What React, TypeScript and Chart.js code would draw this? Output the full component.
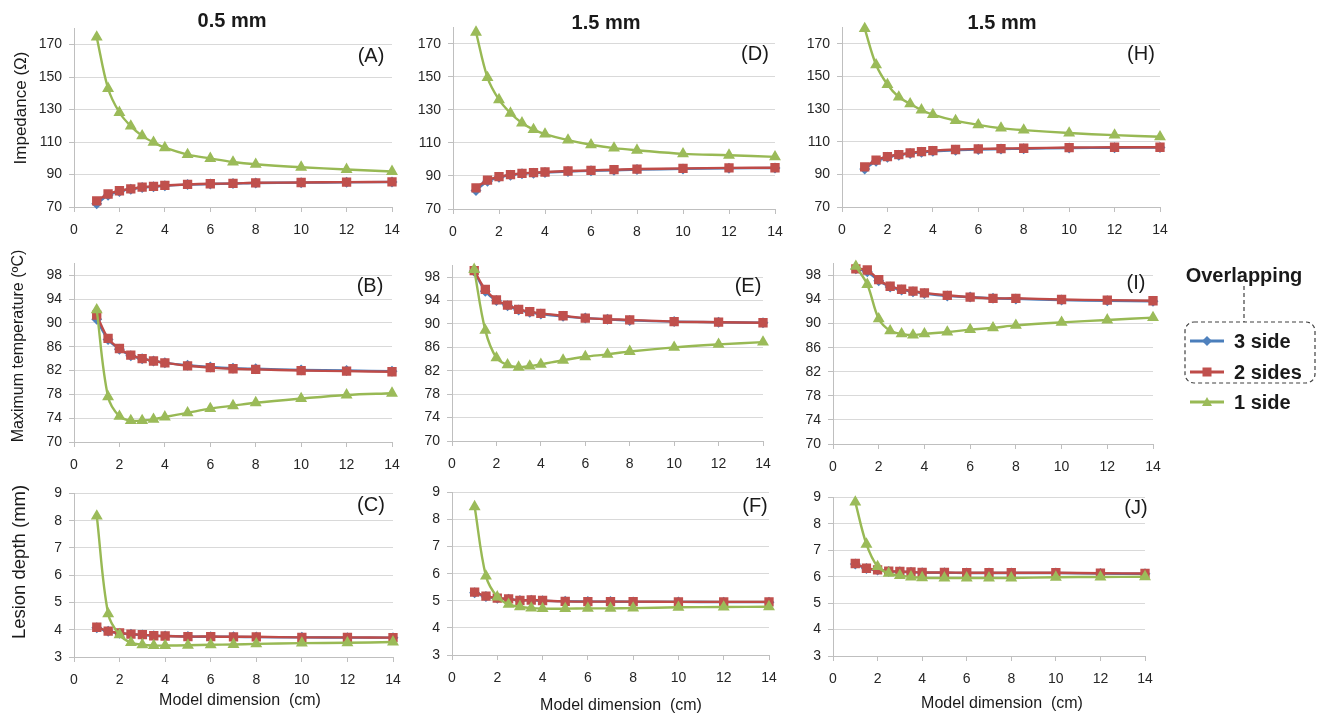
import React, { useEffect, useRef } from "react";
import { Chart, registerables } from "chart.js";

Chart.register(...registerables);

// ---------- data ----------
const xValues = [1, 1.5, 2, 2.5, 3, 3.5, 4, 5, 6, 7, 8, 10, 12, 14];
const xTicks = [0, 2, 4, 6, 8, 10, 12, 14];
const impedanceTicks = [70, 90, 110, 130, 150, 170];
const temperatureTicks = [70, 74, 78, 82, 86, 90, 94, 98];
const depthTicks = [3, 4, 5, 6, 7, 8, 9];
const seriesNames = ["3 side", "2 sides", "1 side"];
const columnTitles = ["0.5 mm", "1.5 mm", "1.5 mm"];
const panelLetters = ["(A)", "(B)", "(C)", "(D)", "(E)", "(F)", "(H)", "(I)", "(J)"];
const yTitles = ["Impedance (\u03A9)", "Maximum temperature (\u00BAC)", "Lesion depth (mm)"];
const xTitle = "Model dimension\u00A0\u00A0(cm)";

// (A) impedance, 0.5 mm
const impA_3side = [72.0, 77.2, 79.6, 81.0, 82.0, 82.5, 83.1, 83.8, 84.2, 84.4, 84.8, 85.0, 85.2, 85.4];
const impA_2sides = [73.8, 78.0, 80.0, 81.2, 82.2, 82.7, 83.3, 83.9, 84.3, 84.5, 84.9, 85.1, 85.3, 85.5];
const impA_1side = [174.6, 143.0, 128.2, 119.8, 113.8, 109.8, 106.5, 102.3, 99.9, 97.7, 96.3, 94.5, 93.1, 91.9];
// (B) max temperature, 0.5 mm
const tmpB_3side = [90.6, 87.2, 85.6, 84.5, 84.0, 83.6, 83.3, 82.9, 82.6, 82.4, 82.3, 82.1, 82.0, 81.9];
const tmpB_2sides = [91.3, 87.4, 85.7, 84.6, 84.0, 83.6, 83.3, 82.8, 82.5, 82.3, 82.2, 82.0, 81.9, 81.8];
const tmpB_1side = [92.2, 77.6, 74.3, 73.6, 73.6, 73.8, 74.2, 74.9, 75.6, 76.1, 76.6, 77.3, 77.9, 78.2];
// (C) lesion depth, 0.5 mm
const depC_3side = [4.07, 3.94, 3.87, 3.83, 3.81, 3.78, 3.77, 3.75, 3.74, 3.74, 3.73, 3.72, 3.71, 3.71];
const depC_2sides = [4.09, 3.95, 3.88, 3.84, 3.82, 3.78, 3.77, 3.75, 3.75, 3.74, 3.74, 3.72, 3.72, 3.71];
const depC_1side = [8.17, 4.58, 3.81, 3.53, 3.45, 3.42, 3.42, 3.43, 3.45, 3.46, 3.48, 3.51, 3.52, 3.55];
// (D) impedance, 1.5 mm
const impD_3side = [81.2, 86.8, 89.2, 90.5, 91.3, 91.7, 92.1, 92.7, 93.1, 93.5, 93.9, 94.3, 94.7, 94.8];
const impD_2sides = [82.8, 87.5, 89.6, 90.8, 91.6, 92.0, 92.4, 93.0, 93.4, 93.8, 94.2, 94.6, 94.9, 95.0];
const impD_1side = [177.1, 149.6, 136.2, 128.0, 122.1, 118.1, 115.4, 111.7, 108.9, 106.9, 105.6, 103.4, 102.6, 101.6];
// (E) max temperature, 1.5 mm
const tmpE_3side = [99.0, 95.6, 94.0, 93.1, 92.4, 92.0, 91.7, 91.3, 91.0, 90.8, 90.6, 90.4, 90.3, 90.2];
const tmpE_2sides = [99.1, 95.9, 94.1, 93.2, 92.5, 92.1, 91.8, 91.4, 91.0, 90.8, 90.7, 90.4, 90.3, 90.2];
const tmpE_1side = [99.3, 88.9, 84.2, 83.0, 82.6, 82.8, 83.1, 83.8, 84.4, 84.8, 85.3, 86.0, 86.5, 86.9];
// (F) lesion depth, 1.5 mm
const depF_3side = [5.30, 5.16, 5.09, 5.06, 5.01, 5.02, 5.00, 4.98, 4.97, 4.97, 4.96, 4.96, 4.95, 4.95];
const depF_2sides = [5.32, 5.17, 5.10, 5.07, 5.01, 5.03, 5.01, 4.98, 4.97, 4.97, 4.97, 4.96, 4.96, 4.96];
const depF_1side = [8.47, 5.91, 5.14, 4.87, 4.78, 4.73, 4.71, 4.71, 4.72, 4.72, 4.73, 4.76, 4.77, 4.78];
// (H) impedance, 1.5 mm (third column)
const impH_3side = [93.2, 98.0, 100.4, 101.7, 102.7, 103.5, 104.1, 104.8, 105.2, 105.5, 105.7, 106.1, 106.3, 106.4];
const impH_2sides = [94.6, 98.7, 100.9, 102.1, 103.1, 103.9, 104.5, 105.2, 105.6, 105.8, 106.0, 106.4, 106.6, 106.6];
const impH_1side = [179.3, 157.1, 145.0, 137.3, 133.2, 129.4, 126.6, 122.9, 120.3, 118.3, 117.1, 115.3, 114.0, 113.0];
// (I) max temperature, third column
const tmpI_3side = [99.1, 98.6, 97.1, 96.1, 95.6, 95.3, 95.0, 94.6, 94.4, 94.2, 94.1, 93.9, 93.8, 93.7];
const tmpI_2sides = [99.1, 98.9, 97.3, 96.2, 95.7, 95.4, 95.1, 94.7, 94.4, 94.2, 94.2, 94.0, 93.9, 93.8];
const tmpI_1side = [99.5, 96.5, 90.8, 88.8, 88.3, 88.1, 88.3, 88.6, 89.0, 89.3, 89.7, 90.2, 90.6, 91.0];
// (J) lesion depth, third column
const depJ_3side = [6.48, 6.31, 6.25, 6.20, 6.19, 6.17, 6.15, 6.15, 6.14, 6.14, 6.14, 6.14, 6.12, 6.11];
const depJ_2sides = [6.50, 6.32, 6.26, 6.21, 6.20, 6.18, 6.16, 6.16, 6.15, 6.15, 6.15, 6.15, 6.13, 6.12];
const depJ_1side = [8.82, 7.23, 6.38, 6.13, 6.04, 5.99, 5.96, 5.95, 5.95, 5.95, 5.95, 5.98, 5.99, 6.00];

// ---------- layout / style ----------
const FONT = '"Liberation Sans", Arial, sans-serif';
const Y_AXIS_W = 50;
const X_AXIS_H = 40;
const PAD_T = 10;
const PAD_R = 24;

const COLORS = {
  blueLine: "#4A7EBB",
  blueFill: "#4F81BD",
  redLine: "#BE4B48",
  redFill: "#C0504D",
  greenLine: "#98B954",
  greenFill: "#9BBB59",
};

type Kind = "imp" | "tmp" | "dep";
const RANGES: Record<Kind, { min: number; max: number; ticks: number[] }> = {
  imp: { min: 70, max: 180, ticks: impedanceTicks },
  tmp: { min: 70, max: 100, ticks: temperatureTicks },
  dep: { min: 3, max: 9, ticks: depthTicks },
};

type PanelDef = {
  kind: Kind;
  series: number[][];
  rect: { l: number; r: number; t: number; b: number };
  letter: string;
  letterPos: [number, number];
};

const panels: PanelDef[] = [
  { kind: "imp", series: [impA_3side, impA_2sides, impA_1side], rect: { l: 74, r: 392, t: 23, b: 207 }, letter: panelLetters[0], letterPos: [371, 55] },
  { kind: "tmp", series: [tmpB_3side, tmpB_2sides, tmpB_1side], rect: { l: 74, r: 392, t: 258, b: 442 }, letter: panelLetters[1], letterPos: [370, 285] },
  { kind: "dep", series: [depC_3side, depC_2sides, depC_1side], rect: { l: 74, r: 393, t: 488, b: 657 }, letter: panelLetters[2], letterPos: [371, 504] },
  { kind: "imp", series: [impD_3side, impD_2sides, impD_1side], rect: { l: 453, r: 775, t: 22, b: 209 }, letter: panelLetters[3], letterPos: [755, 53] },
  { kind: "tmp", series: [tmpE_3side, tmpE_2sides, tmpE_1side], rect: { l: 452, r: 763, t: 260, b: 441 }, letter: panelLetters[4], letterPos: [748, 285] },
  { kind: "dep", series: [depF_3side, depF_2sides, depF_1side], rect: { l: 452, r: 769, t: 487, b: 655 }, letter: panelLetters[5], letterPos: [755, 505] },
  { kind: "imp", series: [impH_3side, impH_2sides, impH_1side], rect: { l: 842, r: 1160, t: 22, b: 207 }, letter: panelLetters[6], letterPos: [1141, 53] },
  { kind: "tmp", series: [tmpI_3side, tmpI_2sides, tmpI_1side], rect: { l: 833, r: 1153, t: 258, b: 444 }, letter: panelLetters[7], letterPos: [1136, 282] },
  { kind: "dep", series: [depJ_3side, depJ_2sides, depJ_1side], rect: { l: 833, r: 1145, t: 492, b: 656 }, letter: panelLetters[8], letterPos: [1136, 507] },
];

function Panel({ p }: { p: PanelDef }) {
  const ref = useRef<HTMLCanvasElement>(null);
  const w = p.rect.r - p.rect.l + Y_AXIS_W + PAD_R;
  const h = p.rect.b - p.rect.t + PAD_T + X_AXIS_H;

  useEffect(() => {
    if (!ref.current) return;
    const range = RANGES[p.kind];
    const mk = (vals: number[]) => vals.map((v, i) => ({ x: xValues[i], y: v }));
    const chart = new Chart(ref.current, {
      type: "scatter",
      data: {
        datasets: [
          {
            label: seriesNames[0],
            data: mk(p.series[0]),
            showLine: true,
            borderColor: COLORS.blueLine,
            backgroundColor: COLORS.blueFill,
            pointBackgroundColor: COLORS.blueFill,
            pointBorderColor: COLORS.blueFill,
            pointStyle: "rectRot",
            pointRadius: 3.8,
            borderWidth: 2.4,
            tension: 0.35,
            clip: false,
            order: 3,
          },
          {
            label: seriesNames[1],
            data: mk(p.series[1]),
            showLine: true,
            borderColor: COLORS.redLine,
            backgroundColor: COLORS.redFill,
            pointBackgroundColor: COLORS.redFill,
            pointBorderColor: COLORS.redFill,
            pointStyle: "rect",
            pointRadius: 4.9,
            borderWidth: 2.4,
            tension: 0.35,
            clip: false,
            order: 2,
          },
          {
            label: seriesNames[2],
            data: mk(p.series[2]),
            showLine: true,
            borderColor: COLORS.greenLine,
            backgroundColor: COLORS.greenFill,
            pointBackgroundColor: COLORS.greenFill,
            pointBorderColor: COLORS.greenFill,
            pointStyle: "triangle",
            pointRadius: 4.5,
            borderWidth: 2.4,
            tension: 0.35,
            clip: false,
            order: 1,
          },
        ],
      },
      options: {
        animation: false,
        responsive: false,
        events: [],
        layout: { padding: { top: PAD_T, right: PAD_R, left: 0, bottom: 0 } },
        plugins: { legend: { display: false }, tooltip: { enabled: false } },
        scales: {
          x: {
            type: "linear",
            min: 0,
            max: 14,
            afterBuildTicks: (s: any) => {
              s.ticks = xTicks.map((v) => ({ value: v }));
            },
            afterFit: (s: any) => {
              s.height = X_AXIS_H;
            },
            grid: { drawOnChartArea: false, drawTicks: true, tickLength: 5, color: "#bfbfbf" },
            border: { color: "#bfbfbf", width: 1 },
            ticks: { font: { family: FONT, size: 14 }, color: "#262626", padding: 10, maxRotation: 0, autoSkip: false },
          },
          y: {
            type: "linear",
            min: range.min,
            max: range.max,
            afterBuildTicks: (s: any) => {
              s.ticks = range.ticks.map((v) => ({ value: v }));
            },
            afterFit: (s: any) => {
              s.width = Y_AXIS_W;
            },
            grid: { color: "#d9d9d9", tickLength: 5, tickColor: "#bfbfbf", lineWidth: 1 },
            border: { color: "#bfbfbf", width: 1 },
            ticks: { font: { family: FONT, size: 14 }, color: "#262626", padding: 7, autoSkip: false },
          },
        },
      },
    } as any);
    return () => chart.destroy();
  }, []);

  return (
    <canvas
      ref={ref}
      width={w}
      height={h}
      style={{ position: "absolute", left: p.rect.l - Y_AXIS_W, top: p.rect.t - PAD_T, width: w, height: h }}
    />
  );
}

function Text({ x, y, children, size, bold, rotate }: any) {
  return (
    <div
      style={{
        position: "absolute",
        left: x,
        top: y,
        transform: `translate(-50%, -50%)${rotate ? " rotate(-90deg)" : ""}`,
        fontSize: size,
        fontWeight: bold ? "bold" : "normal",
        lineHeight: 1,
        whiteSpace: "nowrap",
        fontFamily: FONT,
        color: "#1a1a1a",
      }}
    >
      {children}
    </div>
  );
}

function Legend() {
  const rows = [
    { y: 91, line: COLORS.blueLine, fill: COLORS.blueFill, shape: "diamond", label: seriesNames[0] },
    { y: 122, line: COLORS.redLine, fill: COLORS.redFill, shape: "square", label: seriesNames[1] },
    { y: 152, line: COLORS.greenLine, fill: COLORS.greenFill, shape: "triangle", label: seriesNames[2] },
  ];
  return (
    <svg
      width={162}
      height={180}
      style={{ position: "absolute", left: 1160, top: 250 }}
      fontFamily={FONT}
    >
      <text x={84} y={25} textAnchor="middle" dominantBaseline="central" fontSize={20} fontWeight="bold" fill="#1a1a1a">
        Overlapping
      </text>
      <line x1={84} y1={36} x2={84} y2={72} stroke="#404040" strokeWidth={1.2} strokeDasharray="4 3" />
      <rect x={25} y={72} width={130} height={61} rx={9} ry={9} fill="none" stroke="#404040" strokeWidth={1.2} strokeDasharray="4 3" />
      {rows.map((r) => (
        <g key={r.label}>
          <line x1={30} y1={r.y} x2={64} y2={r.y} stroke={r.line} strokeWidth={3} />
          {r.shape === "diamond" && (
            <polygon points={`47,${r.y - 5} 52,${r.y} 47,${r.y + 5} 42,${r.y}`} fill={r.fill} />
          )}
          {r.shape === "square" && <rect x={42.5} y={r.y - 4.5} width={9} height={9} fill={r.fill} />}
          {r.shape === "triangle" && (
            <polygon points={`47,${r.y - 5} 52,${r.y + 4} 42,${r.y + 4}`} fill={r.fill} />
          )}
          <text x={74} y={r.y} dominantBaseline="central" fontSize={20} fontWeight="bold" fill="#1a1a1a">
            {r.label}
          </text>
        </g>
      ))}
    </svg>
  );
}

export default function App() {
  return (
    <div
      style={{
        position: "absolute",
        left: 0,
        top: 0,
        width: 1322,
        height: 714,
        background: "#ffffff",
        overflow: "hidden",
        fontFamily: FONT,
      }}
    >
      {panels.map((p, i) => (
        <Panel key={i} p={p} />
      ))}
      {panels.map((p, i) => (
        <Text key={"l" + i} x={p.letterPos[0]} y={p.letterPos[1]} size={20}>
          {p.letter}
        </Text>
      ))}
      <Text x={232} y={20} size={20} bold>
        {columnTitles[0]}
      </Text>
      <Text x={606} y={22} size={20} bold>
        {columnTitles[1]}
      </Text>
      <Text x={1002} y={22} size={20} bold>
        {columnTitles[2]}
      </Text>
      <Text x={20} y={108} size={17} rotate>
        {yTitles[0]}
      </Text>
      <Text x={18} y={346} size={16} rotate>
        {yTitles[1]}
      </Text>
      <Text x={19} y={562} size={18.5} rotate>
        {yTitles[2]}
      </Text>
      <Text x={240} y={700} size={16}>
        {xTitle}
      </Text>
      <Text x={621} y={705} size={16}>
        {xTitle}
      </Text>
      <Text x={1002} y={703} size={16}>
        {xTitle}
      </Text>
      <Legend />
    </div>
  );
}
